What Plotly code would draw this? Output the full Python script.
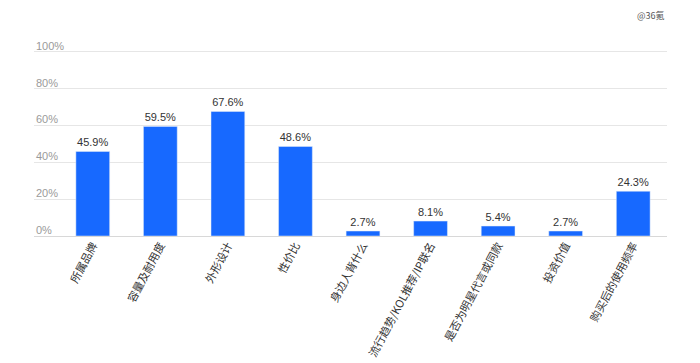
import plotly.graph_objects as go

categories = ["所属品牌", "容量及耐用度", "外形设计", "性价比", "身边人背什么",
              "流行趋势/KOL推荐/IP联名", "是否为明星代言或同款", "投资价值", "购买后的使用频率"]
values = [45.9, 59.5, 67.6, 48.6, 2.7, 8.1, 5.4, 2.7, 24.3]
tick_vals = [0, 20, 40, 60, 80, 100]
tick_text = ["0%", "20%", "40%", "60%", "80%", "100%"]

fig = go.Figure(go.Bar(
    x=list(range(len(categories))), y=values,
    marker_color="#1769FF", width=0.5,
    text=[f"{v}%" for v in values], textposition="outside",
    textfont=dict(size=11, color="#333333", family="Arial, Liberation Sans, sans-serif"),
    cliponaxis=False,
))

annotations = [dict(
    text=t, x=0, y=v, xref="paper", yref="y", xanchor="left", yanchor="bottom",
    showarrow=False, yshift=-2,
    font=dict(size=11, color="#9a9a9a", family="Arial, Liberation Sans, sans-serif"),
) for v, t in zip(tick_vals, tick_text)]
annotations.append(dict(
    text="@36氪", x=1.0, y=1.0, xref="paper", yref="paper", xanchor="right", yanchor="bottom",
    yshift=25, showarrow=False,
    font=dict(size=9, color="#555555", family="Noto Sans CJK SC, sans-serif"),
))

fig.update_layout(
    width=700, height=363,
    margin=dict(l=34, r=33, t=49, b=127, autoexpand=False),
    paper_bgcolor="white", plot_bgcolor="white",
    showlegend=False,
    font=dict(family="Arial, Liberation Sans, Noto Sans CJK SC, sans-serif"),
    xaxis=dict(
        tickmode="array", tickvals=list(range(len(categories))), ticktext=categories,
        range=[-0.87, 8.5], tickangle=-62, automargin=False,
        tickfont=dict(size=11, color="#333333", family="Noto Sans CJK SC, sans-serif"),
        showgrid=False, showline=False, zeroline=False, ticks="",
    ),
    yaxis=dict(
        range=[0, 101.5], tickvals=tick_vals, showticklabels=False, automargin=False,
        showgrid=True, gridcolor="#e6e6e6", gridwidth=1,
        zeroline=True, zerolinecolor="#d8d8d8", zerolinewidth=1,
        showline=False, ticks="",
    ),
    annotations=annotations,
)

fig.write_html("out.html")
